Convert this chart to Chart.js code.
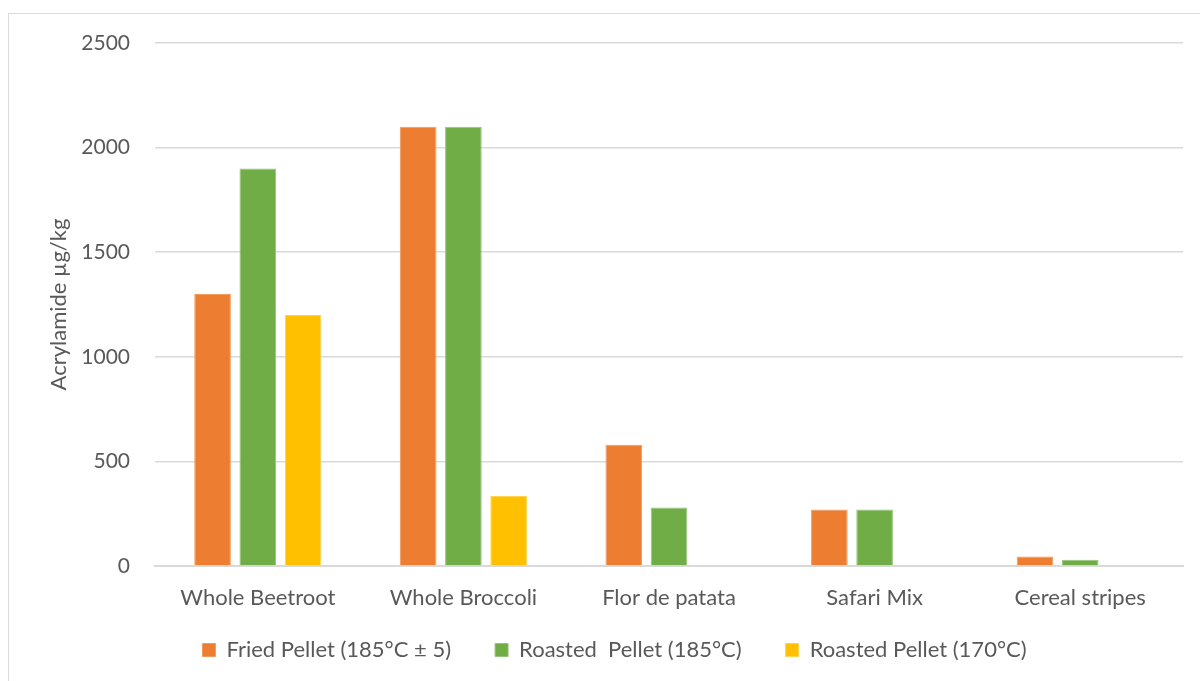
<!DOCTYPE html>
<html>
<head>
<meta charset="utf-8">
<script src="https://cdn.jsdelivr.net/npm/chart.js@4/dist/chart.umd.min.js"></script>
<style>
  html, body { margin: 0; padding: 0; background: #fff; overflow: hidden; }
  #frame { position: absolute; left: 8px; top: 13px; width: 1300px; height: 800px;
           border: 1.5px solid #D9D9D9; box-sizing: border-box; }
  #wrap { position: absolute; left: 0; top: 0; width: 1200px; height: 681px; }
</style>
</head>
<body>
<div id="frame"></div>
<div id="wrap"><canvas id="c" width="1200" height="681"></canvas></div>
<script>
// Acrylamide content per product and processing method
const categories = ['Whole Beetroot', 'Whole Broccoli', 'Flor de patata', 'Safari Mix', 'Cereal stripes'];
const seriesNames = ['Fried Pellet (185°C ± 5)', 'Roasted  Pellet (185°C)', 'Roasted Pellet (170°C)'];
const friedPellet185 = [1300, 2100, 580, 270, 45];
const roastedPellet185 = [1900, 2100, 280, 270, 30];
const roastedPellet170 = [1200, 335, null, null, null];
const yTicks = [0, 500, 1000, 1500, 2000, 2500];

const textColor = '#595959';
const fontFamily = 'Lato, "Open Sans", sans-serif';
const leftPad = 46;
const legendShift = -19; // pull the legend row up closer to the category labels

const chart = new Chart(document.getElementById('c'), {
  type: 'bar',
  data: {
    labels: categories,
    datasets: [
      { label: seriesNames[0], data: friedPellet185, backgroundColor: '#ED7D31', borderColor: '#F19A5E', borderWidth: 1 },
      { label: seriesNames[1], data: roastedPellet185, backgroundColor: '#70AD47', borderColor: '#95C47A', borderWidth: 1 },
      { label: seriesNames[2], data: roastedPellet170, backgroundColor: '#FFC000', borderColor: '#FFD34D', borderWidth: 1 }
    ]
  },
  options: {
    responsive: false,
    animation: false,
    devicePixelRatio: 1,
    layout: { padding: { left: leftPad, right: 17, top: 43, bottom: -9 } },
    datasets: { bar: { categoryPercentage: 0.66, barPercentage: 0.81 } },
    plugins: {
      tooltip: { enabled: false },
      legend: {
        position: 'bottom',
        labels: {
          color: textColor,
          font: { family: fontFamily, size: 22 },
          boxWidth: 13,
          boxHeight: 13,
          padding: 44
        }
      }
    },
    scales: {
      x: {
        grid: { display: false, drawTicks: false },
        border: { display: true, color: '#D9D9D9', width: 2 },
        ticks: { color: textColor, font: { family: fontFamily, size: 22 }, padding: 19 },
        afterFit: (s) => { s.height = 48; }
      },
      y: {
        min: 0,
        max: 2500,
        afterBuildTicks: (s) => { s.ticks = yTicks.map(v => ({ value: v })); },
        grid: { color: '#D9D9D9', lineWidth: 1.5, drawTicks: false },
        border: { display: false },
        ticks: {
          color: textColor,
          font: { family: fontFamily, size: 21 },
          padding: 25,
          callback: (v) => String(v)
        },
        title: {
          display: true,
          text: 'Acrylamide µg/kg',
          color: textColor,
          font: { family: fontFamily, size: 22 },
          padding: { top: 0, bottom: 0 }
        },
        afterFit: (s) => { s.width = 155 - leftPad; }
      }
    }
  }
});

// Draw the legend slightly higher than its layout box
const legendBox = chart.legend;
const drawLegend = legendBox.draw.bind(legendBox);
legendBox.draw = function (area) {
  const ctx = this.ctx;
  ctx.save();
  ctx.translate(0, legendShift);
  drawLegend(area);
  ctx.restore();
};
chart.draw();
</script>
</body>
</html>
